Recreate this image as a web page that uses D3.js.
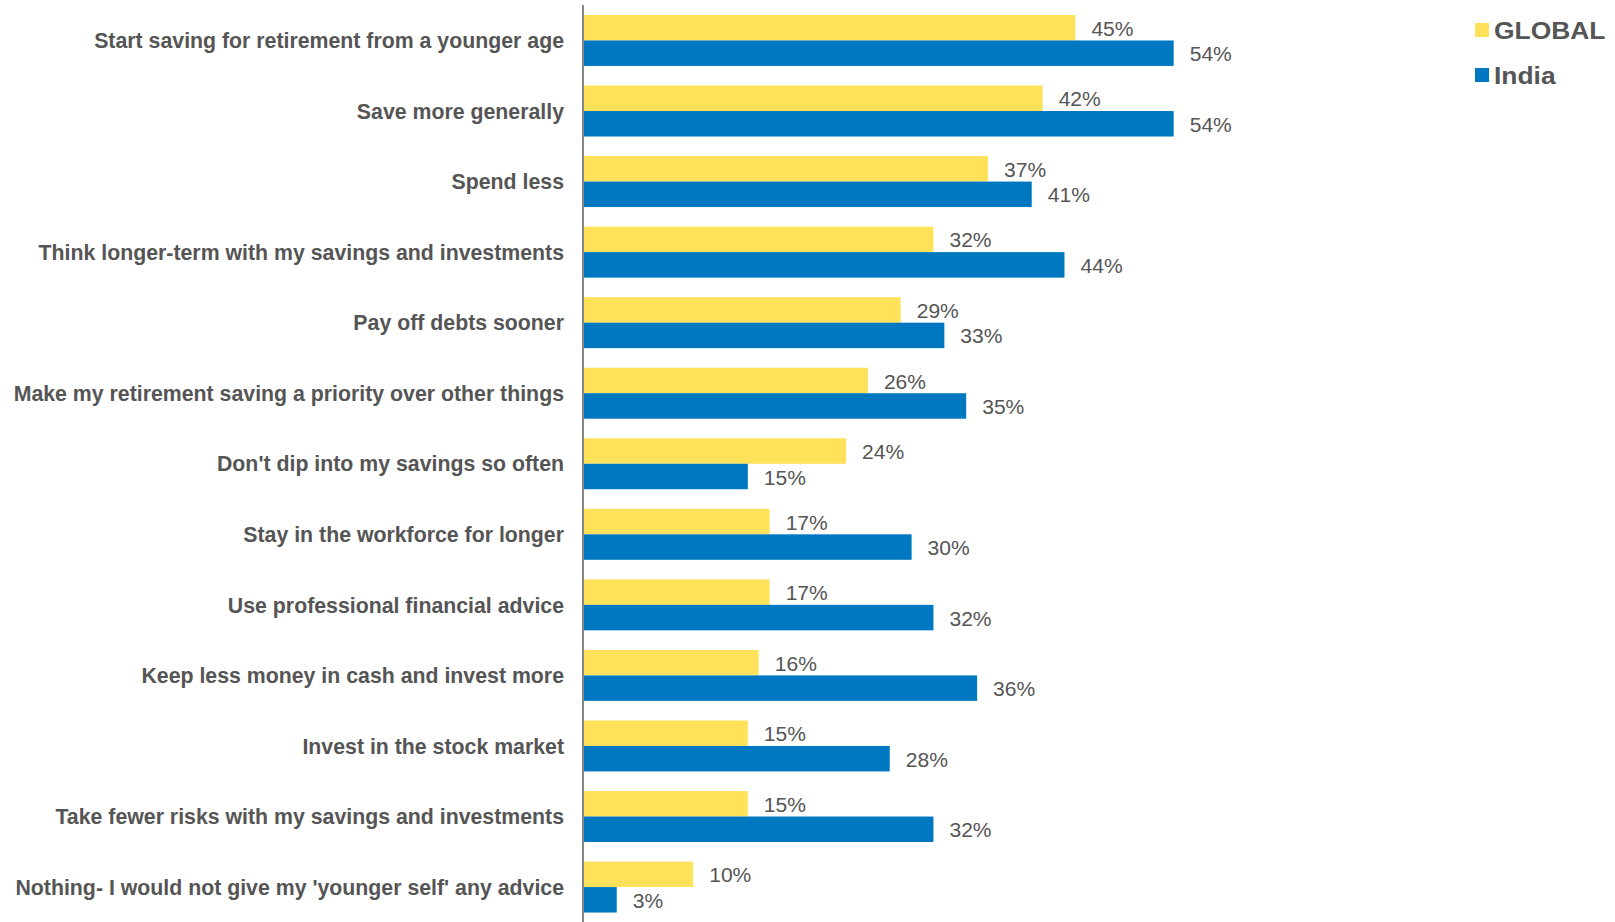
<!DOCTYPE html>
<html>
<head>
<meta charset="utf-8">
<script src="https://cdn.jsdelivr.net/npm/d3@7"></script>
<style>
  html, body { margin: 0; padding: 0; background: #ffffff; }
  svg { display: block; }
</style>
</head>
<body>
<script>
// Advice respondents would give their younger selves (% of respondents)
const categories = [
  "Start saving for retirement from a younger age",
  "Save more generally",
  "Spend less",
  "Think longer-term with my savings and investments",
  "Pay off debts sooner",
  "Make my retirement saving a priority over other things",
  "Don't dip into my savings so often",
  "Stay in the workforce for longer",
  "Use professional financial advice",
  "Keep less money in cash and invest more",
  "Invest in the stock market",
  "Take fewer risks with my savings and investments",
  "Nothing- I would not give my 'younger self' any advice"
];
const globalValues = [45, 42, 37, 32, 29, 26, 24, 17, 17, 16, 15, 15, 10];
const indiaValues  = [54, 54, 41, 44, 33, 35, 15, 30, 32, 36, 28, 32, 3];
const seriesNames  = ["GLOBAL", "India"];
const seriesColors = ["#FFE15A", "#0078C1"];

const width = 1615, height = 922;
const axisX = 584;
const textColor = "#555555";

const svg = d3.select("body").append("svg")
  .attr("width", width)
  .attr("height", height)
  .style("font-family", "'Liberation Sans', Arial, sans-serif");

const x = d3.scaleLinear().domain([0, 100]).range([axisX, axisX + 1092]);

const y = d3.scaleBand()
  .domain(categories)
  .range([5, 5 + 70.58 * 13])
  .paddingInner(19.6 / 70.58)
  .paddingOuter(10 / 70.58);

const inner = d3.scaleBand()
  .domain(seriesNames)
  .range([0, y.bandwidth()]);

const series = [globalValues, indiaValues];

const rows = svg.append("g").selectAll("g.row")
  .data(categories)
  .join("g")
  .attr("class", "row")
  .attr("transform", d => `translate(0,${y(d)})`);

seriesNames.forEach((name, si) => {
  rows.append("rect")
    .attr("x", x(0))
    .attr("y", inner(name))
    .attr("width", (d, i) => x(series[si][i]) - x(0))
    .attr("height", inner.bandwidth())
    .attr("fill", seriesColors[si]);

  // value labels use a slightly widened face
  rows.append("text")
    .attr("transform", (d, i) =>
      `translate(${x(series[si][i]) + 16},${inner(name) + inner.bandwidth() / 2 + 1}) scale(1.08,1)`)
    .attr("dy", "0.36em")
    .attr("font-size", 19.5)
    .attr("fill", textColor)
    .text((d, i) => series[si][i] + "%");
});

// Category labels, right-aligned against the axis
svg.append("g").selectAll("text")
  .data(categories)
  .join("text")
  .attr("x", axisX - 20)
  .attr("y", d => y(d) + y.bandwidth() / 2)
  .attr("dy", "0.36em")
  .attr("text-anchor", "end")
  .attr("font-size", 21.3)
  .attr("font-weight", "bold")
  .attr("fill", textColor)
  .text(d => d);

// Vertical baseline
svg.append("line")
  .attr("x1", axisX - 1).attr("x2", axisX - 1)
  .attr("y1", 5).attr("y2", height)
  .attr("stroke", "#878787")
  .attr("stroke-width", 2);

// Legend
const legend = svg.append("g").selectAll("g")
  .data(seriesNames)
  .join("g")
  .attr("transform", (d, i) => `translate(1475,${30 + i * 45})`);

legend.append("rect")
  .attr("x", 0).attr("y", -7)
  .attr("width", 14).attr("height", 14)
  .attr("fill", (d, i) => seriesColors[i]);

legend.append("text")
  .attr("transform", "translate(19,0) scale(1.1,1)")
  .attr("dy", "0.36em")
  .attr("font-size", 24)
  .attr("font-weight", "bold")
  .attr("fill", textColor)
  .text(d => d);
</script>
</body>
</html>
